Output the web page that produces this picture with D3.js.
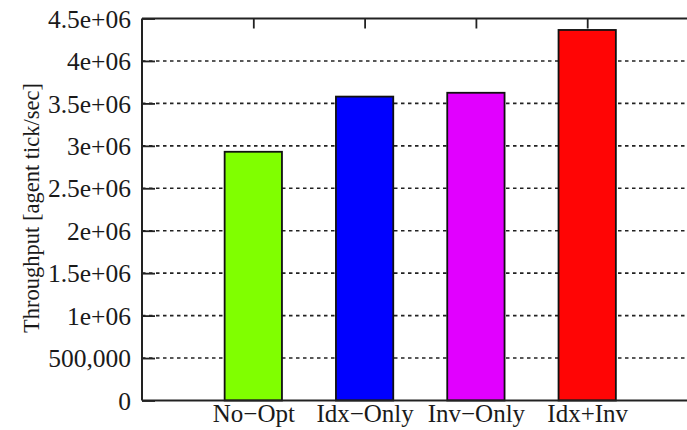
<!DOCTYPE html>
<html><head><meta charset="utf-8">
<script src="https://cdn.jsdelivr.net/npm/d3@7"></script>
<style>body{margin:0;background:#fff}svg{display:block}text{font-family:"Liberation Serif","Times New Roman",serif;fill:#1a1a1a}</style>
</head><body><svg id="c" width="687" height="430"></svg>
<script>
const categories = ["No\u2212Opt", "Idx\u2212Only", "Inv\u2212Only", "Idx+Inv"];
const values = [2930000, 3580000, 3625000, 4365000];
const colors = ["#80ff00", "#0000ff", "#e100ff", "#ff0505"];
const yTickValues = [0, 500000, 1000000, 1500000, 2000000, 2500000, 3000000, 3500000, 4000000, 4500000];
const yTickLabels = ["0", "500,000", "1e+06", "1.5e+06", "2e+06", "2.5e+06", "3e+06", "3.5e+06", "4e+06", "4.5e+06"];
const yLabel = "Throughput [agent tick/sec]";

const svg = d3.select("#c");
const L = 142, T = 18.5, B = 400.5, step = 111.3;
const x = d3.scaleLinear().domain([0, 5]).range([L, L + 5 * step]);
const y = d3.scaleLinear().domain([0, 4500000]).range([B, T]);
const bw = step * 0.515;

// grid
svg.append("g").selectAll("line").data(yTickValues.slice(1, -1)).join("line")
  .attr("x1", L).attr("x2", 687).attr("y1", d => y(d)).attr("y2", d => y(d))
  .attr("stroke", "#222").attr("stroke-width", 1.6).attr("stroke-dasharray", "3.5,3.5");

// bars
svg.append("g").selectAll("rect").data(values).join("rect")
  .attr("x", (d, i) => x(i + 1) - bw / 2).attr("width", bw)
  .attr("y", d => y(d)).attr("height", d => B - y(d))
  .attr("fill", (d, i) => colors[i]).attr("stroke", "#111").attr("stroke-width", 1.8);

// left axis
const ya = svg.append("g").attr("transform", `translate(${L},0)`)
  .call(d3.axisLeft(y).tickValues(yTickValues).tickFormat((d, i) => yTickLabels[i]).tickSize(-13).tickPadding(11));
ya.select(".domain").remove();
ya.selectAll(".tick line").attr("stroke", "#222").attr("stroke-width", 1.8);
ya.selectAll(".tick text").style("font-size", "25.5px").attr("fill", "#1a1a1a").attr("dy", "0.34em");

// top axis (ticks only)
const xa = svg.append("g").attr("transform", `translate(0,${T})`)
  .call(d3.axisTop(x).tickValues([1, 2, 3, 4]).tickFormat("").tickSize(-10));
xa.select(".domain").remove();
xa.selectAll(".tick line").attr("stroke", "#222").attr("stroke-width", 1.8);

// bottom labels
const xb = svg.append("g").attr("transform", `translate(0,${B})`)
  .call(d3.axisBottom(x).tickValues([1, 2, 3, 4]).tickFormat(d => categories[d - 1]).tickSize(0).tickPadding(4));
xb.select(".domain").remove();
xb.selectAll(".tick text").style("font-size", "25px").attr("fill", "#1a1a1a");

// frame lines
svg.append("line").attr("x1", L).attr("x2", L).attr("y1", T).attr("y2", B).attr("stroke", "#222").attr("stroke-width", 2);
svg.append("line").attr("x1", L).attr("x2", 687).attr("y1", T).attr("y2", T).attr("stroke", "#222").attr("stroke-width", 2);
svg.append("line").attr("x1", L).attr("x2", 687).attr("y1", B).attr("y2", B).attr("stroke", "#222").attr("stroke-width", 2);

// y label
svg.append("text").attr("transform", "translate(39,208) rotate(-90)")
  .attr("text-anchor", "middle").style("font-size", "22.5px").text(yLabel);
</script></body></html>
